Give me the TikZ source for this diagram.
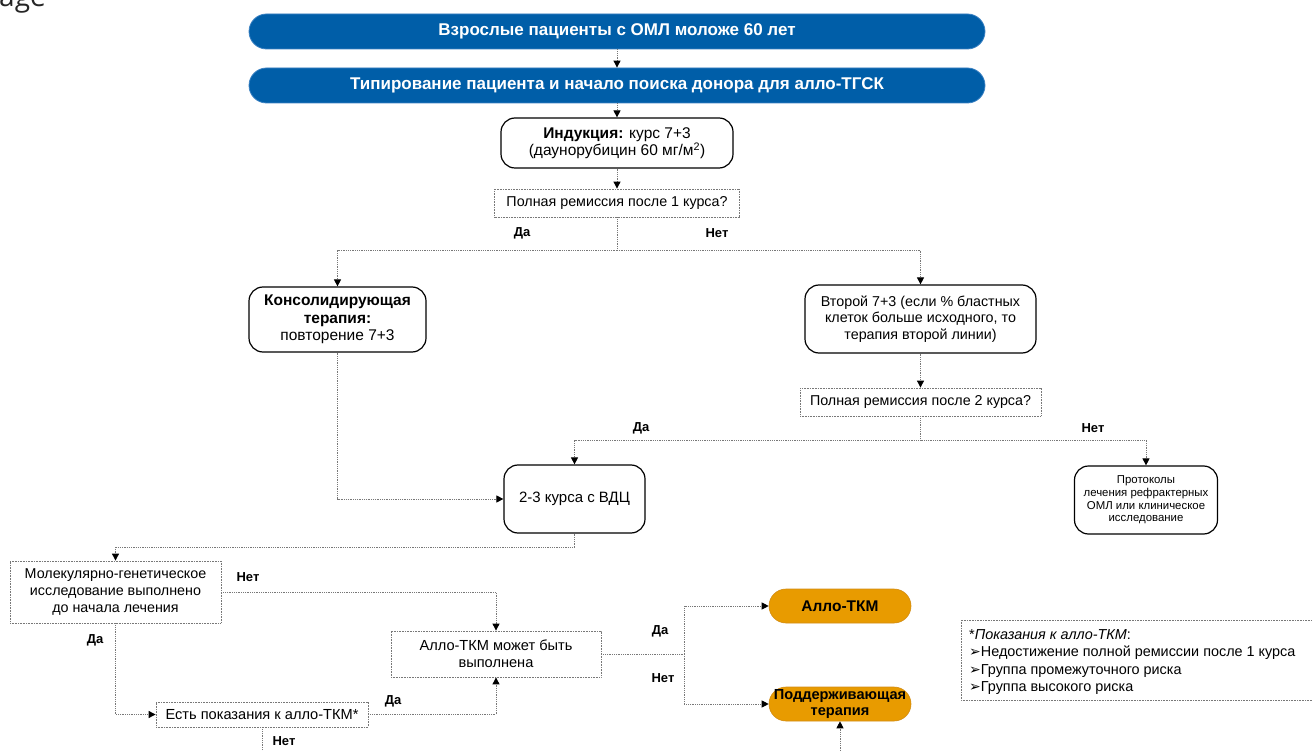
\documentclass[tikz,border=0pt]{standalone}
\usepackage{fontspec}
\setmainfont{Liberation Sans}
\newfontfamily\opensans{Open Sans}
\newfontfamily\dejavu{DejaVu Sans}
\usetikzlibrary{arrows.meta,positioning,calc}
\definecolor{hdrblue}{RGB}{0,94,168}
\definecolor{hdredge}{RGB}{60,130,195}
\definecolor{accorange}{RGB}{232,155,0}
\definecolor{accedge}{RGB}{210,140,20}
\definecolor{dotgray}{RGB}{120,120,120}
\tikzset{
  txt/.style={font=\fontsize{14.3}{16.8}\selectfont, align=center, inner sep=0pt},
  hdrbox/.style={txt, fill=hdrblue, draw=hdredge, line width=0.8pt, rounded corners=17.5pt,
    text=white, font=\fontsize{17}{19}\selectfont\bfseries, minimum width=736pt, minimum height=35pt},
  roundbox/.style={txt, draw=black, line width=1.2pt, rounded corners=14pt},
  qbox/.style={txt, draw=dotgray, line width=0.8pt, dash pattern=on 0.8pt off 0.8pt},
  orbox/.style={txt, fill=accorange, draw=accedge, line width=0.6pt, rounded corners=17pt,
    font=\fontsize{15.5}{16.5}\selectfont\bfseries, minimum width=142pt, minimum height=34pt},
  conn/.style={draw=dotgray, line width=0.9pt, dash pattern=on 0.9pt off 0.9pt},
  arr/.style={conn, -{Triangle[length=7pt,width=7pt,color=black]}},
  lbl/.style={font=\fontsize{13}{15}\selectfont\bfseries, inner sep=0pt},
}
\newcommand{\legarrow}{{\dejavu\fontsize{14}{14}\selectfont ➢}}
\begin{document}
\begin{tikzpicture}[x=1pt,y=-1pt]
\useasboundingbox (0,0) rectangle (1312,751);
\fill[white] (0,0) rectangle (1312,751);
\begin{scope}
\clip (0,0) rectangle (1312,751);
\node[anchor=base west, inner sep=0pt, font=\opensans\fontsize{28}{30}\selectfont, text=black!85] (frag) at (-1,6.5) {age};

\node[hdrbox] (top1) at (617,31.5) {Взрослые пациенты с ОМЛ моложе 60 лет};
\node[hdrbox] (top2) at (617,85.5) {Типирование пациента и начало поиска донора для алло-ТГСК};
\node[roundbox, minimum width=232pt, minimum height=50pt, font=\fontsize{15.5}{17.5}\selectfont] (ind) at (617,143)
  {\textbf{Индукция:} курс 7+3\\(даунорубицин 60 мг/м\textsuperscript{2})};
\node[qbox, minimum width=245pt, minimum height=28pt] (q1) at (617,203) {Полная ремиссия после 1 курса?};
\node[roundbox, minimum width=177pt, minimum height=65pt, font=\fontsize{15.5}{17.5}\selectfont] (kons) at (337.5,319.5)
  {\textbf{Консолидирующая}\\\textbf{терапия:}\\повторение 7+3};
\node[roundbox, minimum width=231pt, minimum height=68pt] (vtor) at (920.5,319)
  {Второй 7+3 (если \% бластных\\клеток больше исходного, то\\терапия второй линии)};
\node[qbox, minimum width=241pt, minimum height=28pt] (q2) at (920.5,402) {Полная ремиссия после 2 курса?};
\node[roundbox, minimum width=141pt, minimum height=68pt, font=\fontsize{15}{17}\selectfont] (vdc) at (574.5,499) {2-3 курса с ВДЦ};
\node[roundbox, minimum width=143pt, minimum height=68pt, font=\fontsize{11.4}{12.8}\selectfont] (prot) at (1146,500)
  {Протоколы\\лечения рефрактерных\\ОМЛ или клиническое\\исследование};
\node[qbox, minimum width=211pt, minimum height=62pt] (mol) at (115.5,592)
  {Молекулярно-генетическое\\исследование выполнено\\до начала лечения};
\node[qbox, minimum width=210pt, minimum height=46pt, font=\fontsize{14.6}{17}\selectfont] (allo) at (496,654) {Алло-ТКМ может быть\\выполнена};
\node[qbox, minimum width=212pt, minimum height=25pt, font=\fontsize{14.6}{17}\selectfont] (est) at (262,714.5) {Есть показания к алло-ТКМ*};
\node[orbox] (atkm) at (840,606) {Алло-ТКМ};
\node[orbox, font=\fontsize{14.6}{16}\selectfont\bfseries] (podd) at (840,704) {Поддерживающая\\терапия};

\draw[qbox] (961,620) rectangle (1330,700);
\node[txt, anchor=north west, align=left, font=\fontsize{14.4}{17.6}\selectfont] (leg) at (969,629)
  {*\textit{Показания к алло-ТКМ}:\\
   \legarrow Недостижение полной ремиссии после 1 курса\\
   \legarrow Группа промежуточного риска\\
   \legarrow Группа высокого риска};

\coordinate (j1) at (617,250);
\coordinate (j2) at (920.5,440);
\coordinate (j3) at (574.5,547);
\coordinate (j4) at (684,654);
\coordinate (estout) at (262,760);
\coordinate (poddin) at (840,760);

\draw[arr] (top1) -- (top2);
\draw[arr] (top2) -- (ind);
\draw[arr] (ind) -- (q1);
\draw[conn] (q1.south) -- (j1);
\draw[arr] (j1) -| (kons.north);
\draw[arr] (j1) -| (vtor.north);
\draw[arr] (vtor) -- (q2);
\draw[conn] (q2.south) -- (j2);
\draw[arr] (j2) -| (vdc.north);
\draw[arr] (j2) -| (prot.north);
\draw[arr] (kons.south) |- (vdc.west);
\draw[conn] (vdc.south) -- (j3);
\draw[arr] (j3) -| (mol.north);
\draw[arr] (mol.east) -| (allo.north);
\draw[arr] (mol.south) |- (est.west);
\draw[arr] (est.east) -| (allo.south);
\draw[conn] (est.south) -- (estout);
\draw[conn] (allo.east) -- (j4);
\draw[arr] (j4) |- (atkm.west);
\draw[arr] (j4) |- (podd.west);
\draw[arr] (poddin) -- (podd.south);

\node[lbl] (l1) at (522,233) {Да};
\node[lbl] (l2) at (717,233) {Нет};
\node[lbl] (l3) at (641,428) {Да};
\node[lbl] (l4) at (1093,428) {Нет};
\node[lbl] (l5) at (248,577) {Нет};
\node[lbl] (l6) at (95,640) {Да};
\node[lbl] (l7) at (393,701) {Да};
\node[lbl] (l8) at (284,741) {Нет};
\node[lbl] (l9) at (660,631) {Да};
\node[lbl] (l10) at (663,678) {Нет};
\end{scope}
\end{tikzpicture}
\end{document}
